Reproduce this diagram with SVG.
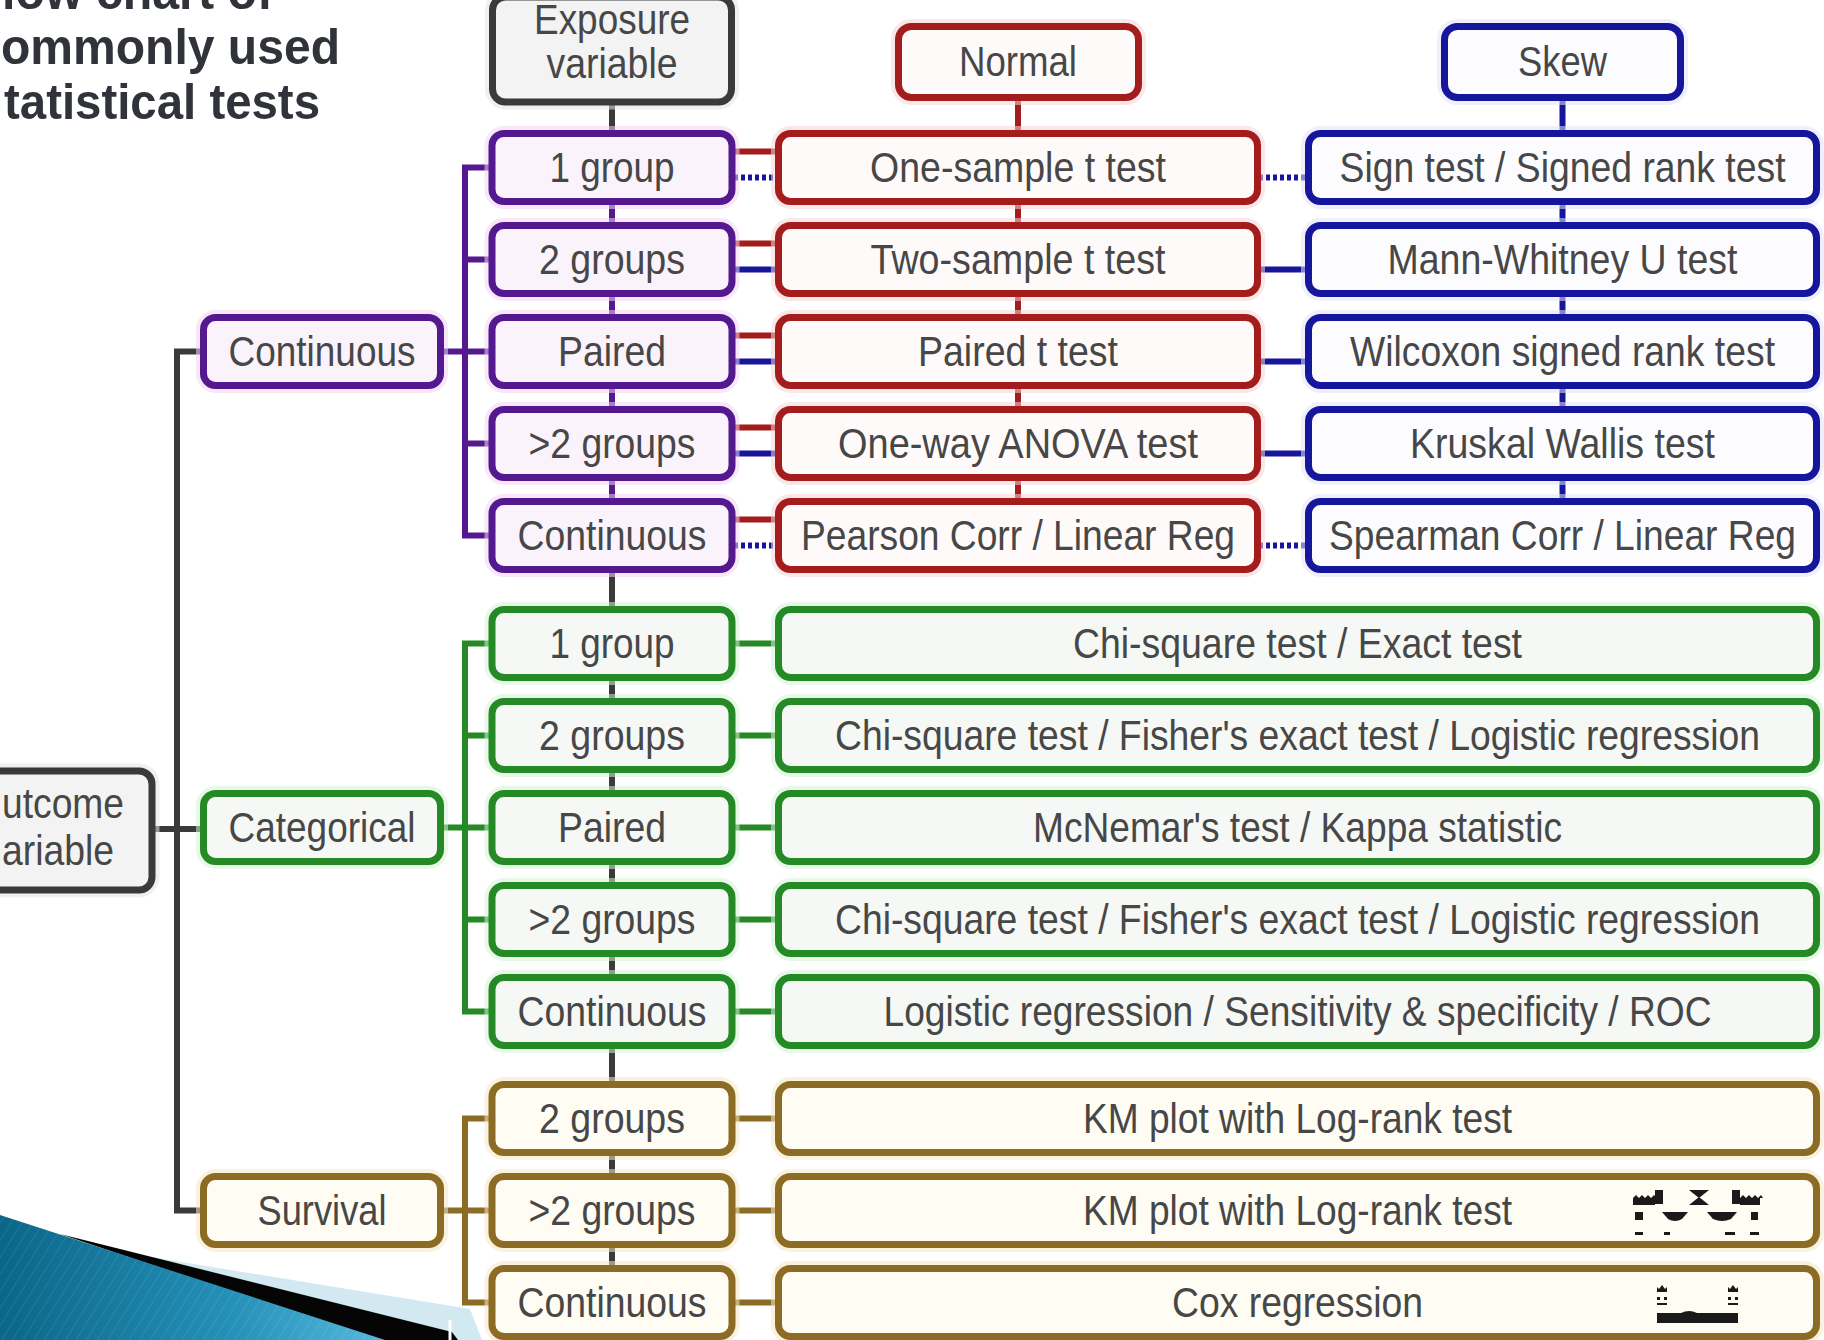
<svg xmlns="http://www.w3.org/2000/svg" width="1824" height="1340" viewBox="0 0 1824 1340">
  <defs>
    <linearGradient id="swoosh" x1="0" y1="0" x2="1" y2="0">
      <stop offset="0" stop-color="#0b6688"/>
      <stop offset="0.6" stop-color="#2590b8"/>
      <stop offset="1" stop-color="#55b8dc"/>
    </linearGradient>
    <pattern id="stripes" width="9" height="9" patternUnits="userSpaceOnUse" patternTransform="rotate(32)">
      <line x1="0" y1="0" x2="0" y2="9" stroke="#ffffff" stroke-width="1" stroke-opacity="0.18"/>
    </pattern>
  </defs>
  <style>
    text { font-family: "Liberation Sans", Arial, sans-serif; }
    .lbl { font-size: 42px; fill: #474747; text-anchor: middle; }
    .ttl { font-size: 50px; font-weight: bold; fill: #30343a; }
    .box { stroke-width: 7; }
    .halo { fill: none; stroke-width: 15; stroke-opacity: 0.55; }
    .gray   { stroke: #3a3a3a; fill: #f3f3f3; }
    .purple { stroke: #55198f; fill: #fbf3fb; }
    .red    { stroke: #a31d1d; fill: #fffafa; }
    .blue   { stroke: #16169c; fill: #fcfcff; }
    .green  { stroke: #258a25; fill: #f6f8f6; }
    .brown  { stroke: #8c6b25; fill: #fefcf3; }
    .h-purple { stroke: #f0d4f4; }
    .h-red    { stroke: #f6d6d6; }
    .h-blue   { stroke: #e2e4f8; }
    .h-green  { stroke: #d6f2d6; }
    .h-brown  { stroke: #f4e8c2; }
    .h-gray   { stroke: #e4e4e4; }
    .ln { fill: none; stroke-width: 6; }
    .dot { stroke-dasharray: 4 3; }
    .c-gray { stroke: #3a3a3a; }
    .c-purple { stroke: #55198f; }
    .c-red { stroke: #a31d1d; }
    .c-blue { stroke: #16169c; }
    .c-green { stroke: #258a25; }
    .c-brown { stroke: #8c6b25; }
    .km { fill: #1a1a1a; }
  </style>

  <rect x="0" y="0" width="1824" height="1340" fill="#ffffff"/>

  <!-- title, its first line running off the top edge -->
  <g id="title">
    <text class="ttl" x="2" y="9" textLength="271" lengthAdjust="spacingAndGlyphs">low chart of</text>
    <text class="ttl" x="1" y="64" textLength="339" lengthAdjust="spacingAndGlyphs">ommonly used</text>
    <text class="ttl" x="4" y="119" textLength="316" lengthAdjust="spacingAndGlyphs">tatistical tests</text>
  </g>

  <!-- connectors -->
  <g id="connectors">
    <!-- outcome trunk -->
    <path class="ln c-gray" d="M155,829 H203"/>
    <path class="ln c-gray" d="M203,351.5 H177 V1210.5 H203"/>
    <!-- exposure spine -->
    <path class="ln c-gray" d="M612,100 V1275"/>
    <path class="ln c-purple" d="M612,167.5 V535.5"/>
    <!-- normal / skew spines -->
    <path class="ln c-red" d="M1018,100 V535.5"/>
    <path class="ln c-blue" d="M1562.5,100 V535.5"/>

    <!-- continuous outcome branches -->
    <path class="ln c-purple" d="M441,351.5 H492"/>
    <path class="ln c-purple" d="M492,167.5 H465 V535.5 H492"/>
    <path class="ln c-purple" d="M465,259.5 H492 M465,443.5 H492"/>

    <!-- categorical outcome branches -->
    <path class="ln c-green" d="M441,827.5 H492"/>
    <path class="ln c-green" d="M492,643.5 H465 V1011.5 H492"/>
    <path class="ln c-green" d="M465,735.5 H492 M465,919.5 H492"/>

    <!-- survival outcome branches -->
    <path class="ln c-brown" d="M441,1210.5 H492"/>
    <path class="ln c-brown" d="M492,1118.5 H465 V1302.5 H492"/>

    <!-- exposure to normal tests -->
    <path class="ln c-red" d="M732,151.5 H779 M732,243.5 H779 M732,335.5 H779 M732,427.5 H779 M732,519.5 H779"/>
    <!-- exposure to skew tests (behind the normal boxes) -->
    <path class="ln c-blue" d="M732,269.5 H1309 M732,361.5 H1309 M732,453.5 H1309"/>
    <path class="ln c-blue dot" d="M734,177.5 H1308 M734,545.5 H1308"/>

    <!-- categorical and survival results -->
    <path class="ln c-green" d="M732,643.5 H779 M732,735.5 H779 M732,827.5 H779 M732,919.5 H779 M732,1011.5 H779"/>
    <path class="ln c-brown" d="M732,1118.5 H779 M732,1210.5 H779 M732,1302.5 H779"/>
  </g>

  <!-- top level nodes -->
  <g id="outcome">
    <rect class="halo h-gray" x="-60" y="771" width="212" height="119" rx="13"/>
    <rect class="box gray" x="-60" y="771" width="212" height="119" rx="13"/>
    <text class="lbl" x="2" y="818" style="text-anchor:start" textLength="122" lengthAdjust="spacingAndGlyphs">utcome</text>
    <text class="lbl" x="2" y="865" style="text-anchor:start" textLength="112" lengthAdjust="spacingAndGlyphs">ariable</text>
  </g>
  <g id="exposure">
    <rect class="halo h-gray" x="492.5" y="-3" width="239" height="105" rx="13"/>
    <rect class="box gray" x="492.5" y="-3" width="239" height="105" rx="13"/>
    <text class="lbl" x="612" y="34" textLength="156" lengthAdjust="spacingAndGlyphs">Exposure</text>
    <text class="lbl" x="612" y="78" textLength="131" lengthAdjust="spacingAndGlyphs">variable</text>
  </g>
  <g id="normal">
    <rect class="halo h-red" x="898.5" y="26.5" width="240" height="71" rx="13"/>
    <rect class="box red" x="898.5" y="26.5" width="240" height="71" rx="13"/>
    <text class="lbl" x="1018" y="76" textLength="118" lengthAdjust="spacingAndGlyphs">Normal</text>
  </g>
  <g id="skew">
    <rect class="halo h-blue" x="1444.5" y="26.5" width="236" height="71" rx="13"/>
    <rect class="box blue" x="1444.5" y="26.5" width="236" height="71" rx="13"/>
    <text class="lbl" x="1562.5" y="76" textLength="89" lengthAdjust="spacingAndGlyphs">Skew</text>
  </g>

  <!-- outcome types -->
  <g id="out-continuous">
    <rect class="halo h-purple" x="203.5" y="317.5" width="237" height="68" rx="12"/>
    <rect class="box purple" x="203.5" y="317.5" width="237" height="68" rx="12"/>
    <text class="lbl" x="322" y="366" textLength="187" lengthAdjust="spacingAndGlyphs">Continuous</text>
  </g>
  <g id="out-categorical">
    <rect class="halo h-green" x="203.5" y="793.5" width="237" height="68" rx="12"/>
    <rect class="box green" x="203.5" y="793.5" width="237" height="68" rx="12"/>
    <text class="lbl" x="322" y="842" textLength="187" lengthAdjust="spacingAndGlyphs">Categorical</text>
  </g>
  <g id="out-survival">
    <rect class="halo h-brown" x="203.5" y="1176.5" width="237" height="68" rx="12"/>
    <rect class="box brown" x="203.5" y="1176.5" width="237" height="68" rx="12"/>
    <text class="lbl" x="322" y="1225" textLength="129" lengthAdjust="spacingAndGlyphs">Survival</text>
  </g>

  <!-- exposure types: continuous outcome -->
  <g id="c-1group">
    <rect class="halo h-purple" x="492" y="133.5" width="240" height="68" rx="12"/>
    <rect class="box purple" x="492" y="133.5" width="240" height="68" rx="12"/>
    <text class="lbl" x="612" y="182" textLength="125" lengthAdjust="spacingAndGlyphs">1 group</text>
  </g>
  <g id="c-2groups">
    <rect class="halo h-purple" x="492" y="225.5" width="240" height="68" rx="12"/>
    <rect class="box purple" x="492" y="225.5" width="240" height="68" rx="12"/>
    <text class="lbl" x="612" y="274" textLength="146" lengthAdjust="spacingAndGlyphs">2 groups</text>
  </g>
  <g id="c-paired">
    <rect class="halo h-purple" x="492" y="317.5" width="240" height="68" rx="12"/>
    <rect class="box purple" x="492" y="317.5" width="240" height="68" rx="12"/>
    <text class="lbl" x="612" y="366" textLength="108" lengthAdjust="spacingAndGlyphs">Paired</text>
  </g>
  <g id="c-gt2groups">
    <rect class="halo h-purple" x="492" y="409.5" width="240" height="68" rx="12"/>
    <rect class="box purple" x="492" y="409.5" width="240" height="68" rx="12"/>
    <text class="lbl" x="612" y="458" textLength="167" lengthAdjust="spacingAndGlyphs">&gt;2 groups</text>
  </g>
  <g id="c-continuous">
    <rect class="halo h-purple" x="492" y="501.5" width="240" height="68" rx="12"/>
    <rect class="box purple" x="492" y="501.5" width="240" height="68" rx="12"/>
    <text class="lbl" x="612" y="550" textLength="189" lengthAdjust="spacingAndGlyphs">Continuous</text>
  </g>

  <!-- normal tests -->
  <g id="n-onesample">
    <rect class="halo h-red" x="778.5" y="133.5" width="479" height="68" rx="12"/>
    <rect class="box red" x="778.5" y="133.5" width="479" height="68" rx="12"/>
    <text class="lbl" x="1018" y="182" textLength="296" lengthAdjust="spacingAndGlyphs">One-sample t test</text>
  </g>
  <g id="n-twosample">
    <rect class="halo h-red" x="778.5" y="225.5" width="479" height="68" rx="12"/>
    <rect class="box red" x="778.5" y="225.5" width="479" height="68" rx="12"/>
    <text class="lbl" x="1018" y="274" textLength="295" lengthAdjust="spacingAndGlyphs">Two-sample t test</text>
  </g>
  <g id="n-paired">
    <rect class="halo h-red" x="778.5" y="317.5" width="479" height="68" rx="12"/>
    <rect class="box red" x="778.5" y="317.5" width="479" height="68" rx="12"/>
    <text class="lbl" x="1018" y="366" textLength="200" lengthAdjust="spacingAndGlyphs">Paired t test</text>
  </g>
  <g id="n-anova">
    <rect class="halo h-red" x="778.5" y="409.5" width="479" height="68" rx="12"/>
    <rect class="box red" x="778.5" y="409.5" width="479" height="68" rx="12"/>
    <text class="lbl" x="1018" y="458" textLength="360" lengthAdjust="spacingAndGlyphs">One-way ANOVA test</text>
  </g>
  <g id="n-pearson">
    <rect class="halo h-red" x="778.5" y="501.5" width="479" height="68" rx="12"/>
    <rect class="box red" x="778.5" y="501.5" width="479" height="68" rx="12"/>
    <text class="lbl" x="1018" y="550" textLength="434" lengthAdjust="spacingAndGlyphs">Pearson Corr / Linear Reg</text>
  </g>

  <!-- skew tests -->
  <g id="s-sign">
    <rect class="halo h-blue" x="1308.5" y="133.5" width="508" height="68" rx="12"/>
    <rect class="box blue" x="1308.5" y="133.5" width="508" height="68" rx="12"/>
    <text class="lbl" x="1562.5" y="182" textLength="446" lengthAdjust="spacingAndGlyphs">Sign test / Signed rank test</text>
  </g>
  <g id="s-mannwhitney">
    <rect class="halo h-blue" x="1308.5" y="225.5" width="508" height="68" rx="12"/>
    <rect class="box blue" x="1308.5" y="225.5" width="508" height="68" rx="12"/>
    <text class="lbl" x="1562.5" y="274" textLength="350" lengthAdjust="spacingAndGlyphs">Mann-Whitney U test</text>
  </g>
  <g id="s-wilcoxon">
    <rect class="halo h-blue" x="1308.5" y="317.5" width="508" height="68" rx="12"/>
    <rect class="box blue" x="1308.5" y="317.5" width="508" height="68" rx="12"/>
    <text class="lbl" x="1562.5" y="366" textLength="425" lengthAdjust="spacingAndGlyphs">Wilcoxon signed rank test</text>
  </g>
  <g id="s-kruskal">
    <rect class="halo h-blue" x="1308.5" y="409.5" width="508" height="68" rx="12"/>
    <rect class="box blue" x="1308.5" y="409.5" width="508" height="68" rx="12"/>
    <text class="lbl" x="1562.5" y="458" textLength="305" lengthAdjust="spacingAndGlyphs">Kruskal Wallis test</text>
  </g>
  <g id="s-spearman">
    <rect class="halo h-blue" x="1308.5" y="501.5" width="508" height="68" rx="12"/>
    <rect class="box blue" x="1308.5" y="501.5" width="508" height="68" rx="12"/>
    <text class="lbl" x="1562.5" y="550" textLength="467" lengthAdjust="spacingAndGlyphs">Spearman Corr / Linear Reg</text>
  </g>

  <!-- exposure types: categorical outcome -->
  <g id="g-1group">
    <rect class="halo h-green" x="492" y="609.5" width="240" height="68" rx="12"/>
    <rect class="box green" x="492" y="609.5" width="240" height="68" rx="12"/>
    <text class="lbl" x="612" y="658" textLength="125" lengthAdjust="spacingAndGlyphs">1 group</text>
  </g>
  <g id="g-2groups">
    <rect class="halo h-green" x="492" y="701.5" width="240" height="68" rx="12"/>
    <rect class="box green" x="492" y="701.5" width="240" height="68" rx="12"/>
    <text class="lbl" x="612" y="750" textLength="146" lengthAdjust="spacingAndGlyphs">2 groups</text>
  </g>
  <g id="g-paired">
    <rect class="halo h-green" x="492" y="793.5" width="240" height="68" rx="12"/>
    <rect class="box green" x="492" y="793.5" width="240" height="68" rx="12"/>
    <text class="lbl" x="612" y="842" textLength="108" lengthAdjust="spacingAndGlyphs">Paired</text>
  </g>
  <g id="g-gt2groups">
    <rect class="halo h-green" x="492" y="885.5" width="240" height="68" rx="12"/>
    <rect class="box green" x="492" y="885.5" width="240" height="68" rx="12"/>
    <text class="lbl" x="612" y="934" textLength="167" lengthAdjust="spacingAndGlyphs">&gt;2 groups</text>
  </g>
  <g id="g-continuous">
    <rect class="halo h-green" x="492" y="977.5" width="240" height="68" rx="12"/>
    <rect class="box green" x="492" y="977.5" width="240" height="68" rx="12"/>
    <text class="lbl" x="612" y="1026" textLength="189" lengthAdjust="spacingAndGlyphs">Continuous</text>
  </g>

  <!-- categorical tests -->
  <g id="g-r1">
    <rect class="halo h-green" x="778.5" y="609.5" width="1038" height="68" rx="12"/>
    <rect class="box green" x="778.5" y="609.5" width="1038" height="68" rx="12"/>
    <text class="lbl" x="1297.5" y="658" textLength="449" lengthAdjust="spacingAndGlyphs">Chi-square test / Exact test</text>
  </g>
  <g id="g-r2">
    <rect class="halo h-green" x="778.5" y="701.5" width="1038" height="68" rx="12"/>
    <rect class="box green" x="778.5" y="701.5" width="1038" height="68" rx="12"/>
    <text class="lbl" x="1297.5" y="750" textLength="925" lengthAdjust="spacingAndGlyphs">Chi-square test / Fisher's exact test / Logistic regression</text>
  </g>
  <g id="g-r3">
    <rect class="halo h-green" x="778.5" y="793.5" width="1038" height="68" rx="12"/>
    <rect class="box green" x="778.5" y="793.5" width="1038" height="68" rx="12"/>
    <text class="lbl" x="1297.5" y="842" textLength="529" lengthAdjust="spacingAndGlyphs">McNemar's test / Kappa statistic</text>
  </g>
  <g id="g-r4">
    <rect class="halo h-green" x="778.5" y="885.5" width="1038" height="68" rx="12"/>
    <rect class="box green" x="778.5" y="885.5" width="1038" height="68" rx="12"/>
    <text class="lbl" x="1297.5" y="934" textLength="925" lengthAdjust="spacingAndGlyphs">Chi-square test / Fisher's exact test / Logistic regression</text>
  </g>
  <g id="g-r5">
    <rect class="halo h-green" x="778.5" y="977.5" width="1038" height="68" rx="12"/>
    <rect class="box green" x="778.5" y="977.5" width="1038" height="68" rx="12"/>
    <text class="lbl" x="1297.5" y="1026" textLength="828" lengthAdjust="spacingAndGlyphs">Logistic regression / Sensitivity &amp; specificity / ROC</text>
  </g>

  <!-- exposure types: survival outcome -->
  <g id="b-2groups">
    <rect class="halo h-brown" x="492" y="1084.5" width="240" height="68" rx="12"/>
    <rect class="box brown" x="492" y="1084.5" width="240" height="68" rx="12"/>
    <text class="lbl" x="612" y="1133" textLength="146" lengthAdjust="spacingAndGlyphs">2 groups</text>
  </g>
  <g id="b-gt2groups">
    <rect class="halo h-brown" x="492" y="1176.5" width="240" height="68" rx="12"/>
    <rect class="box brown" x="492" y="1176.5" width="240" height="68" rx="12"/>
    <text class="lbl" x="612" y="1225" textLength="167" lengthAdjust="spacingAndGlyphs">&gt;2 groups</text>
  </g>
  <g id="b-continuous">
    <rect class="halo h-brown" x="492" y="1268.5" width="240" height="68" rx="12"/>
    <rect class="box brown" x="492" y="1268.5" width="240" height="68" rx="12"/>
    <text class="lbl" x="612" y="1317" textLength="189" lengthAdjust="spacingAndGlyphs">Continuous</text>
  </g>

  <!-- survival tests -->
  <g id="b-r1">
    <rect class="halo h-brown" x="778.5" y="1084.5" width="1038" height="68" rx="12"/>
    <rect class="box brown" x="778.5" y="1084.5" width="1038" height="68" rx="12"/>
    <text class="lbl" x="1297.5" y="1133" textLength="429" lengthAdjust="spacingAndGlyphs">KM plot with Log-rank test</text>
  </g>
  <g id="b-r2">
    <rect class="halo h-brown" x="778.5" y="1176.5" width="1038" height="68" rx="12"/>
    <rect class="box brown" x="778.5" y="1176.5" width="1038" height="68" rx="12"/>
    <text class="lbl" x="1297.5" y="1225" textLength="429" lengthAdjust="spacingAndGlyphs">KM plot with Log-rank test</text>
    <!-- small KM curve sketch -->
    <g class="km">
      <rect x="1655" y="1190" width="8" height="14"/>
      <path d="M1633,1198 h22 v7 h-22 z M1633,1198 l3,-3 l3,3 l3,-3 l3,3 l3,-3 l3,3 l3,-3 l3,3 z"/>
      <rect x="1635" y="1212" width="8" height="8"/>
      <rect x="1635" y="1232" width="8" height="3"/>
      <path d="M1662,1212 h26 l-6,7 q-7,4 -14,0 z"/>
      <rect x="1664" y="1232" width="6" height="3"/>
      <path d="M1689,1190 h20 l-10,8 z M1699,1197 l10,8 h-20 z"/>
      <path d="M1707,1212 h30 l-6,7 q-9,4 -18,0 z"/>
      <rect x="1725" y="1232" width="10" height="3"/>
      <rect x="1732" y="1190" width="8" height="14"/>
      <path d="M1740,1198 h20 v7 h-20 z M1740,1198 l3,-3 l3,3 l3,-3 l3,3 l3,-3 l3,3 l3,-3 l2,3 z"/>
      <rect x="1751" y="1212" width="7" height="8"/>
      <rect x="1750" y="1232" width="9" height="3"/>
    </g>
  </g>
  <g id="b-r3">
    <rect class="halo h-brown" x="778.5" y="1268.5" width="1038" height="68" rx="12"/>
    <rect class="box brown" x="778.5" y="1268.5" width="1038" height="68" rx="12"/>
    <text class="lbl" x="1297.5" y="1317" textLength="251" lengthAdjust="spacingAndGlyphs">Cox regression</text>
    <!-- small hazard sketch -->
    <g class="km">
      <path d="M1657,1292 v-5 l2,2 l3,-4 l3,4 l2,-2 v5 z"/>
      <rect x="1657" y="1297" width="3" height="3"/>
      <rect x="1664" y="1297" width="3" height="3"/>
      <rect x="1657" y="1303" width="10" height="2"/>
      <path d="M1728,1292 v-5 l2,2 l3,-4 l3,4 l2,-2 v5 z"/>
      <rect x="1728" y="1297" width="3" height="3"/>
      <rect x="1735" y="1297" width="3" height="3"/>
      <rect x="1728" y="1303" width="10" height="2"/>
      <path d="M1657,1313 h24 q8,-4 16,0 h41 v10 h-81 z"/>
    </g>
  </g>

  <!-- corner ornament -->
  <g id="ornament">
    <polygon points="120,1252 470,1309 482,1340 440,1340 100,1246" fill="#d3e9f2"/>
    <polygon points="60,1234 452,1332 458,1340 375,1340" fill="#050505"/>
    <polygon points="0,1215 385,1340 0,1340" fill="url(#swoosh)"/>
    <polygon points="0,1215 385,1340 0,1340" fill="url(#stripes)"/>
    <line x1="450" y1="1320" x2="450" y2="1340" stroke="#ffffff" stroke-width="3"/>
  </g>
</svg>
